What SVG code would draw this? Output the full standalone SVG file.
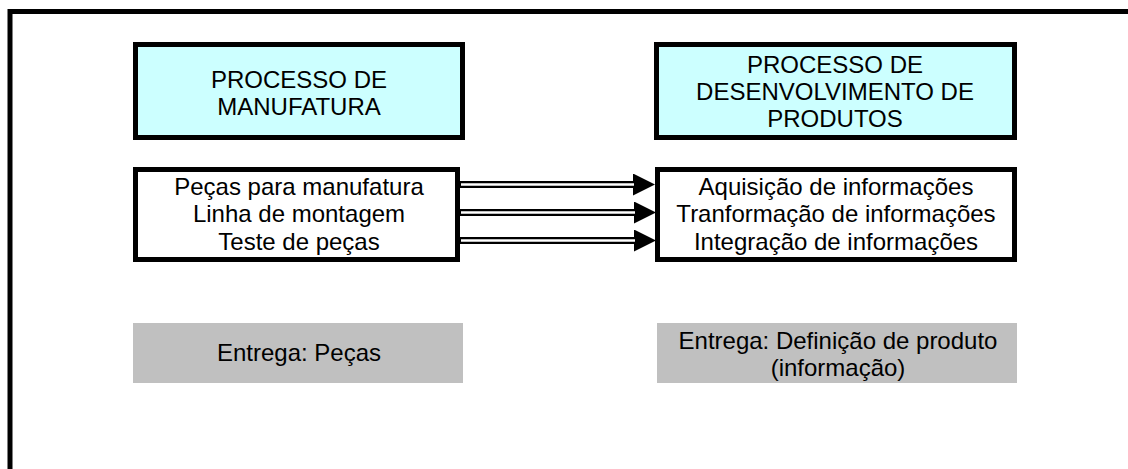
<svg xmlns="http://www.w3.org/2000/svg" width="1128" height="469" viewBox="0 0 1128 469">
<defs>
<style>
.t{font-family:"Liberation Sans",Arial,sans-serif;font-size:24px;fill:#000;text-anchor:middle}
.hdr{fill:#ccffff;stroke:#000;stroke-width:5}
.box{fill:#fff;stroke:#000;stroke-width:5}
.gray{fill:#c0c0c0;stroke:none}
.outer{fill:none;stroke:#000;stroke-width:5}
.dbl{stroke:#000;stroke-width:7;fill:none}
.gap{stroke:#fff;stroke-width:2.4;fill:none}
</style>
<marker id="ah" markerUnits="userSpaceOnUse" markerWidth="22" markerHeight="22" refX="0" refY="11" orient="auto" viewBox="0 0 22 22">
<polygon points="0,0 22,11 0,22" fill="#000"/>
</marker>
</defs>
<rect width="1128" height="469" fill="#fff"/>
<path class="outer" d="M10,469 V11.5 H1128"/>

<g id="manufatura-header">
<rect class="hdr" x="135.5" y="44.5" width="327" height="93"/>
<text class="t" x="299" y="88">PROCESSO DE</text>
<text class="t" x="299" y="115">MANUFATURA</text>
</g>

<g id="desenvolvimento-header">
<rect class="hdr" x="656.5" y="44.5" width="358" height="93"/>
<text class="t" x="835" y="73">PROCESSO DE</text>
<text class="t" x="835" y="100">DESENVOLVIMENTO DE</text>
<text class="t" x="835" y="127">PRODUTOS</text>
</g>

<g id="manufatura-items">
<rect class="box" x="135.5" y="169.5" width="322" height="90"/>
<text class="t" x="299" y="195">Peças para manufatura</text>
<text class="t" x="299" y="222">Linha de montagem</text>
<text class="t" x="299" y="250">Teste de peças</text>
</g>

<g id="desenvolvimento-items">
<rect class="box" x="657.5" y="169.5" width="357" height="90"/>
<text class="t" x="836" y="195">Aquisição de informações</text>
<text class="t" x="836" y="222">Tranformação de informações</text>
<text class="t" x="836" y="250">Integração de informações</text>
</g>

<g id="entrega-pecas">
<rect class="gray" x="133" y="323" width="330" height="60"/>
<text class="t" x="299" y="361">Entrega: Peças</text>
</g>

<g id="entrega-definicao">
<rect class="gray" x="657" y="323" width="360" height="60"/>
<text class="t" x="838" y="349">Entrega: Definição de produto</text>
<text class="t" x="838" y="376">(informação)</text>
</g>

<g id="connectors">
<line class="dbl" x1="459" y1="184.5" x2="633" y2="184.5" marker-end="url(#ah)"/>
<line class="gap" x1="461" y1="184.5" x2="634" y2="184.5"/>
<line class="dbl" x1="459" y1="212.5" x2="634" y2="212.5" marker-end="url(#ah)"/>
<line class="gap" x1="461" y1="212.5" x2="635" y2="212.5"/>
<line class="dbl" x1="459" y1="240.5" x2="634" y2="240.5" marker-end="url(#ah)"/>
<line class="gap" x1="461" y1="240.5" x2="635" y2="240.5"/>
</g>
</svg>
